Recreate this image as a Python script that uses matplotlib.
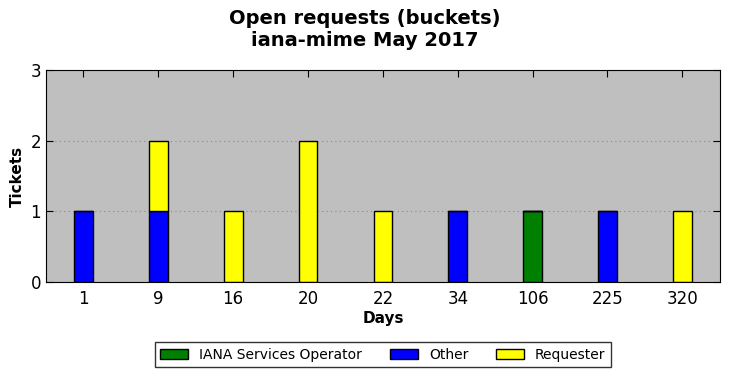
import matplotlib
matplotlib.use('Agg')
import matplotlib.pyplot as plt
import numpy as np

# Dados do gráfico
days = ['1', '9', '16', '20', '22', '34', '106', '225', '320']
iana = [0, 0, 0, 0, 0, 0, 1, 0, 0]
other = [1, 1, 0, 0, 0, 1, 0, 1, 0]
requester = [0, 1, 1, 2, 1, 0, 0, 0, 1]

fig = plt.figure(figsize=(7.3, 3.78), dpi=100)
ax = fig.add_axes([0.063, 0.254, 0.923, 0.561])
ax.set_facecolor('#bfbfbf')

x = np.arange(len(days))
w = 0.25
ax.bar(x, iana, w, color='green', edgecolor='black', label='IANA Services Operator')
ax.bar(x, other, w, bottom=iana, color='blue', edgecolor='black', label='Other')
bottom2 = np.array(iana) + np.array(other)
ax.bar(x, requester, w, bottom=bottom2, color='yellow', edgecolor='black', label='Requester')

ax.set_xlim(-0.5, len(days) - 0.5)
ax.set_ylim(0, 3)
ax.set_yticks([0, 1, 2, 3])
ax.set_xticks(x)
ax.set_xticklabels(days)
ax.tick_params(direction='in', top=True, right=True, labelsize=12, length=5)
ax.tick_params(axis='x', pad=6)
ax.yaxis.grid(True, linestyle=(0, (1, 3)), color='#888888', linewidth=0.8)
ax.set_axisbelow(True)

ax.set_xlabel('Days', fontsize=11, fontweight='bold', labelpad=2)
ax.set_ylabel('Tickets', fontsize=11, fontweight='bold')
fig.suptitle('Open requests (buckets)\niana-mime May 2017', fontsize=14, fontweight='bold', y=0.975)

leg = ax.legend(loc='center', bbox_to_anchor=(0.5, -0.344), ncol=3, fontsize=10,
                fancybox=False, edgecolor='black', handlelength=2, handleheight=0.7,
                columnspacing=2.0)

fig.savefig('out.png', dpi=100)
